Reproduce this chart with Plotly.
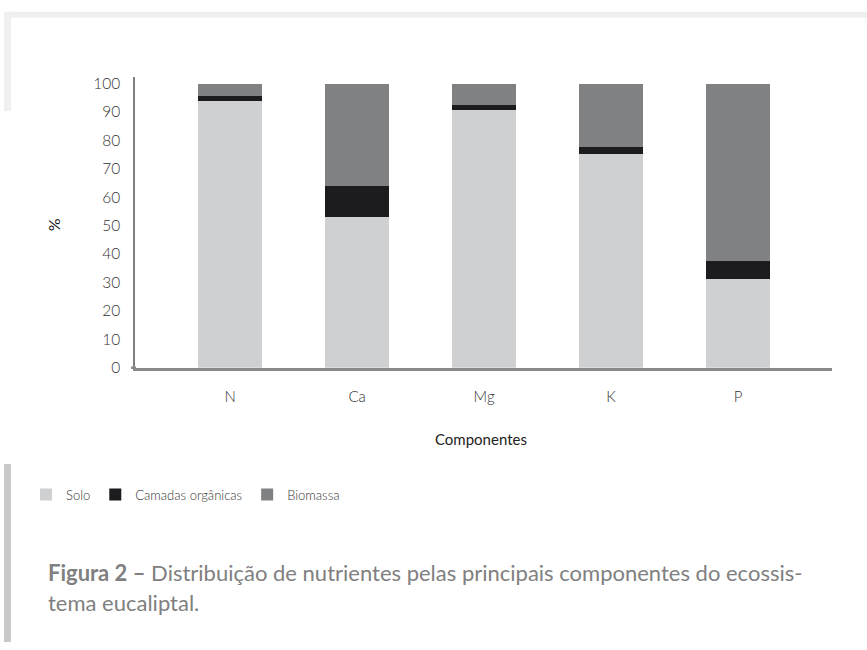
import plotly.graph_objects as go

categories = ["N", "Ca", "Mg", "K", "P"]
solo = [93.8, 53.0, 90.7, 75.1, 31.2]
camadas = [1.7, 11.0, 1.8, 2.4, 6.5]
biomassa = [4.5, 36.0, 7.5, 22.5, 62.3]
series_names = ["Solo", "Camadas orgânicas", "Biomassa"]
series_colors = ["#cfd0d2", "#1c1b1d", "#808183"]
y_ticks = [0, 10, 20, 30, 40, 50, 60, 70, 80, 90, 100]

W, H = 867, 650
def px(x):
    return x / W
def py(y):
    return (H - y) / H

FONT = "Lato"

fig = go.Figure()
for name, vals, col in zip(series_names, [solo, camadas, biomassa], series_colors):
    fig.add_trace(go.Bar(x=categories, y=vals, name=name, marker=dict(color=col, line=dict(width=0)),
                         width=0.5))

fig.update_layout(
    width=W, height=H,
    margin=dict(l=0, r=0, t=0, b=0),
    paper_bgcolor="white", plot_bgcolor="white",
    barmode="stack",
    font=dict(family=FONT, color="#333333"),
    xaxis=dict(domain=[px(135), px(832)], range=[-0.75, 4.74], showgrid=False, zeroline=False,
               showline=True, linecolor="#8a8a8a", linewidth=2.5, ticks="",
               tickfont=dict(size=15, color="#333333", family=FONT, weight=300),
               ticklabelstandoff=14, fixedrange=True),
    yaxis=dict(domain=[py(371), py(75)], range=[0, 102.4], showgrid=False, zeroline=False,
               showline=True, linecolor="#808080", linewidth=1.5, ticks="",
               tickvals=y_ticks, ticktext=[str(v) for v in y_ticks],
               tickfont=dict(size=15.5, color="#333333", family=FONT, weight=300),
               ticklabelstandoff=10, fixedrange=True),
    showlegend=True,
    legend=dict(orientation="h", x=px(26), y=py(500), xanchor="left", yanchor="middle",
                font=dict(size=13, color="#333333", family=FONT, weight=300),
                itemwidth=30, traceorder="normal", bgcolor="rgba(0,0,0,0)"),
    shapes=[
        # decorative frame at top
        dict(type="rect", xref="paper", yref="paper", x0=px(4), x1=1, y0=py(15), y1=py(9),
             fillcolor="#f0f0f0", line=dict(width=0), layer="below"),
        dict(type="rect", xref="paper", yref="paper", x0=px(4), x1=px(11), y0=py(110), y1=py(9),
             fillcolor="#f0f0f0", line=dict(width=0), layer="below"),
        # caption side bar
        dict(type="rect", xref="paper", yref="paper", x0=px(4), x1=px(11), y0=0, y1=py(469),
             fillcolor="#c9c9c9", line=dict(width=0), layer="below"),
        # axis stub at zero
        dict(type="line", xref="paper", yref="paper", x0=px(131), x1=px(136), y0=py(371), y1=py(371),
             line=dict(color="#8a8a8a", width=2.5)),
    ],
    annotations=[
        dict(text="%", xref="paper", yref="paper", x=px(53), y=py(226), textangle=-90,
             showarrow=False, font=dict(size=16, color="#111111", family=FONT), xanchor="center", yanchor="middle"),
        dict(text="Componentes", xref="paper", yref="paper", x=px(481), y=py(444),
             showarrow=False, font=dict(size=15, color="#222222", family=FONT), xanchor="center", yanchor="middle"),
        dict(text="<b>Figura 2 –</b> Distribuição de nutrientes pelas principais componentes do ecossis-",
             xref="paper", yref="paper", x=px(46), y=py(579), xanchor="left", yanchor="middle",
             showarrow=False, font=dict(size=22, color="#808080", family=FONT)),
        dict(text="tema eucaliptal.",
             xref="paper", yref="paper", x=px(46), y=py(610), xanchor="left", yanchor="middle",
             showarrow=False, font=dict(size=22, color="#808080", family=FONT)),
    ],
)

fig.write_html("out.html", config={"displayModeBar": False},
               post_script="document.body.style.margin='0px';document.body.style.overflow='hidden';")
